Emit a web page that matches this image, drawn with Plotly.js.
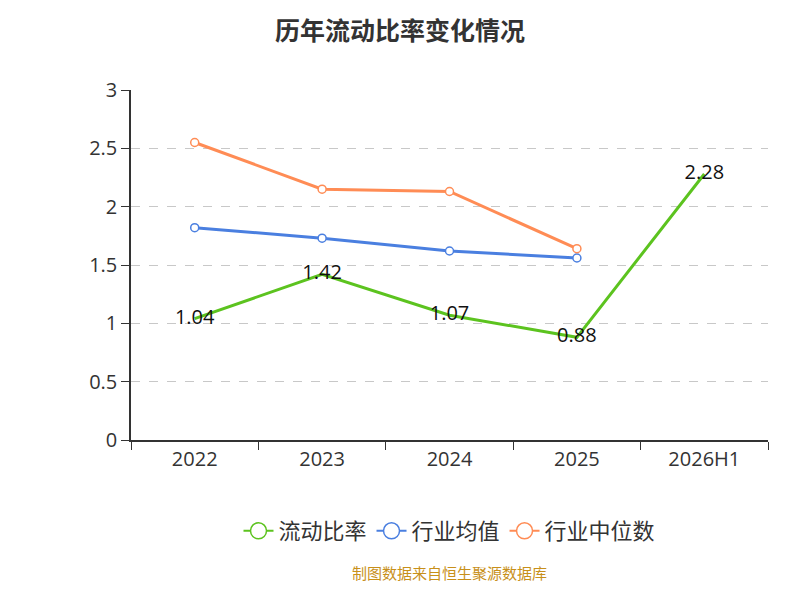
<!DOCTYPE html>
<html><head><meta charset="utf-8">
<script src="https://cdn.plot.ly/plotly-3.0.1.min.js"></script>
<style>body{margin:0}#c{width:800px;height:600px}</style></head>
<body><div id="c"></div>
<script>
const years = ["2022", "2023", "2024", "2025", "2026H1"];
const currentRatio = [1.04, 1.42, 1.07, 0.88, 2.28];
const industryMean = [1.82, 1.73, 1.62, 1.56];
const industryMedian = [2.55, 2.15, 2.13, 1.64];

const names = ["流动比率", "行业均值", "行业中位数"];
const colors = ["#5cc31f", "#4a7fe0", "#ff8c55"];
const font = "Open Sans, Noto Sans CJK SC, sans-serif";

const traces = [
  {
    x: years, y: currentRatio, name: names[0], type: "scatter", mode: "lines+text",
    text: currentRatio.map(v => v.toFixed(2)), textposition: "middle center",
    textfont: { size: 20, color: "#111" },
    line: { color: colors[0], width: 3 }, showlegend: false, cliponaxis: false,
  },
  {
    x: years.slice(0, 4), y: industryMean, name: names[1], type: "scatter", mode: "lines+markers",
    line: { color: colors[1], width: 3 }, showlegend: false,
    marker: { symbol: "circle", size: 8, color: "#fff", line: { color: colors[1], width: 1.5 } },
  },
  {
    x: years.slice(0, 4), y: industryMedian, name: names[2], type: "scatter", mode: "lines+markers",
    line: { color: colors[2], width: 3 }, showlegend: false,
    marker: { symbol: "circle", size: 8, color: "#fff", line: { color: colors[2], width: 1.5 } },
  },
];
// legend entries
names.forEach((n, i) => traces.push({
  x: [null], y: [null], name: n, type: "scatter", mode: "lines+markers",
  line: { color: colors[i], width: 2 },
  marker: { symbol: "circle", size: 16, color: "#fff", line: { color: colors[i], width: 1.5 } },
}));

const layout = {
  width: 800, height: 600,
  margin: { t: 90, l: 131, r: 32, b: 160 },
  paper_bgcolor: "#fff", plot_bgcolor: "#fff",
  font: { family: font, color: "#333" },
  title: { text: "<b>历年流动比率变化情况</b>", x: 0.5, y: 0.962,
    font: { size: 25, color: "#333", family: "Noto Sans CJK SC, sans-serif" } },
  xaxis: {
    type: "category", range: [-0.5, 4.5], showline: true, linecolor: "#333", linewidth: 1.5,
    ticks: "outside", tickson: "boundaries", ticklen: 8, tickcolor: "#333",
    tickfont: { size: 20, color: "#333" }, showgrid: false, fixedrange: true,
  },
  yaxis: {
    range: [0, 3], dtick: 0.5, showline: true, linecolor: "#333", linewidth: 1.5,
    ticks: "outside", ticklen: 8, tickcolor: "#333",
    tickfont: { size: 20, color: "#333" },
    gridcolor: "#c8c8c8", griddash: "dash", zeroline: false, fixedrange: true,
  },
  showlegend: true,
  legend: {
    orientation: "h", x: 0.5, xanchor: "center", y: -0.26, yanchor: "middle",
    font: { size: 22, color: "#333", family: "Noto Sans CJK SC, sans-serif" },
  },
  annotations: [{
    text: "制图数据来自恒生聚源数据库", xref: "paper", yref: "paper",
    x: 0.5, y: -0.415, xanchor: "center", showarrow: false,
    font: { size: 15, color: "#c8901a", family: "Noto Sans CJK SC, sans-serif" },
  }],
};

Plotly.newPlot("c", traces, layout, { displayModeBar: false });
</script></body></html>
